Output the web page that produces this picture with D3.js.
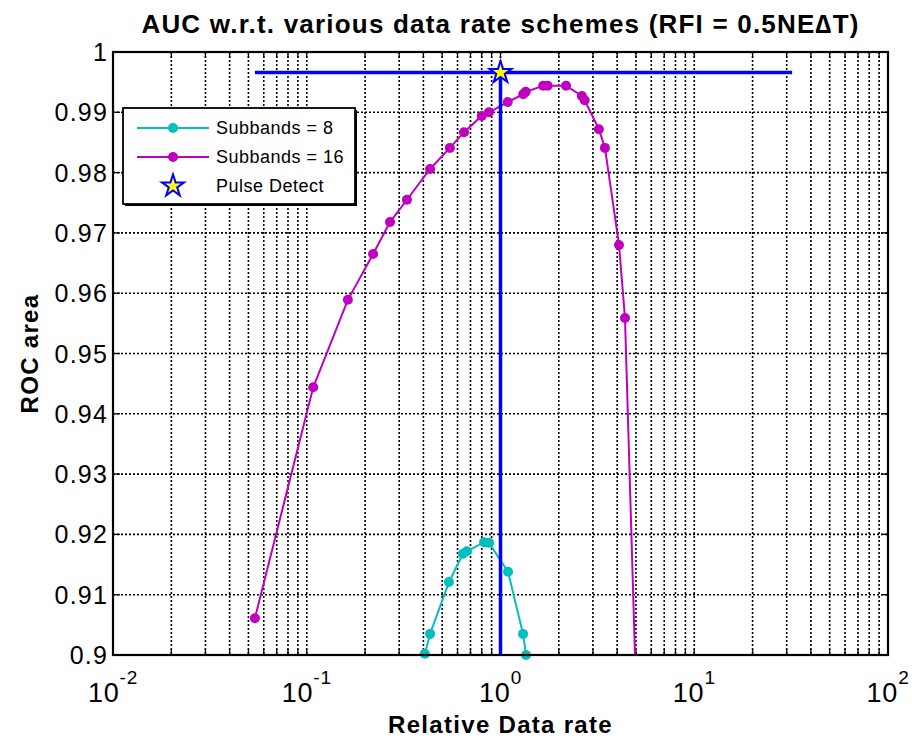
<!DOCTYPE html>
<html>
<head>
<meta charset="utf-8">
<script src="https://cdn.jsdelivr.net/npm/d3@7"></script>
<style>
  body { margin: 0; background: #fff; }
  text { font-family: Arial, "Liberation Sans", sans-serif; }
</style>
</head>
<body>
<svg id="chart" width="912" height="740"></svg>
<script>
// Subbands = 8
const rate8 = [0.407, 0.433, 0.542, 0.640, 0.671, 0.822, 0.873, 1.094, 1.307, 1.355];
const auc8  = [0.9002, 0.9035, 0.9121, 0.9168, 0.9172, 0.9187, 0.9186, 0.9138, 0.9035, 0.9000];

// Subbands = 16
const rate16 = [0.054, 0.108, 0.163, 0.220, 0.269, 0.329, 0.433, 0.548, 0.648, 0.800, 0.872,
                1.09, 1.31, 1.35, 1.66, 1.75, 2.18, 2.63, 2.72, 3.22, 3.46, 4.09, 4.39, 5.5];
const auc16  = [0.9061, 0.9444, 0.9589, 0.9665, 0.9718, 0.9755, 0.9806, 0.9841, 0.9867, 0.9894, 0.9900,
                0.9917, 0.9930, 0.9934, 0.9944, 0.9944, 0.9944, 0.9927, 0.9920, 0.9872, 0.9841, 0.9680, 0.9559, 0.8500];

// Pulse Detect
const pulseRate = 1;
const pulseAuc = 0.9966;
const pulseSpan = [0.054, 32];

const yTicks = [0.9, 0.91, 0.92, 0.93, 0.94, 0.95, 0.96, 0.97, 0.98, 0.99, 1];
const xDecades = [-2, -1, 0, 1, 2];
const legendLabels = ['Subbands = 8', 'Subbands = 16', 'Pulse Detect'];

const margin = {top: 52, right: 24, bottom: 85, left: 113};
const width = 912 - margin.left - margin.right;
const height = 740 - margin.top - margin.bottom;

const svg = d3.select('#chart');
const chart = svg.append('g').attr('transform', `translate(${margin.left},${margin.top})`);

const x = d3.scaleLog().domain([0.01, 100]).range([0, width]);
const y = d3.scaleLinear().domain([0.9, 1]).range([height, 0]);

svg.append('defs').append('clipPath').attr('id', 'clip')
  .append('rect').attr('width', width).attr('height', height);

// minor + major positions for log grid
const xGrid = [];
for (let k = -2; k < 2; k++) for (let m = 1; m < 10; m++) xGrid.push(m * Math.pow(10, k));
xGrid.push(100);

// Grid
chart.append('g').selectAll('line.vg')
  .data(xGrid)
  .join('line')
    .attr('x1', d => x(d)).attr('x2', d => x(d))
    .attr('y1', 0).attr('y2', height)
    .attr('stroke', '#000').attr('stroke-width', 1.6).attr('stroke-dasharray', '2,2');

chart.append('g').selectAll('line.hg')
  .data(yTicks)
  .join('line')
    .attr('x1', 0).attr('x2', width)
    .attr('y1', d => y(d)).attr('y2', d => y(d))
    .attr('stroke', '#000').attr('stroke-width', 1.6).attr('stroke-dasharray', '2,2');

// Ticks inside box
const tickG = chart.append('g').attr('stroke', '#000').attr('stroke-width', 1.3);
tickG.selectAll('line.xb').data(xGrid).join('line')
  .attr('x1', d => x(d)).attr('x2', d => x(d)).attr('y1', height).attr('y2', height - 6);
tickG.selectAll('line.xt').data(xGrid).join('line')
  .attr('x1', d => x(d)).attr('x2', d => x(d)).attr('y1', 0).attr('y2', 6);
tickG.selectAll('line.yl').data(yTicks).join('line')
  .attr('x1', 0).attr('x2', 7).attr('y1', d => y(d)).attr('y2', d => y(d));
tickG.selectAll('line.yr').data(yTicks).join('line')
  .attr('x1', width).attr('x2', width - 7).attr('y1', d => y(d)).attr('y2', d => y(d));

// Tick labels
chart.append('g').selectAll('text')
  .data(yTicks)
  .join('text')
    .attr('x', -5)
    .attr('y', d => y(d))
    .attr('dy', '0.36em')
    .attr('text-anchor', 'end')
    .attr('font-size', 25)
    .attr('letter-spacing', 1.2)
    .text(d => d3.format('~g')(d));

const xLab = chart.append('g').selectAll('text')
  .data(xDecades)
  .join('text')
    .attr('x', d => x(Math.pow(10, d)))
    .attr('y', height + 47)
    .attr('text-anchor', 'middle')
    .attr('font-size', 27)
    .attr('letter-spacing', 0.8);
xLab.append('tspan').text('10');
xLab.append('tspan').attr('dy', -18).attr('font-size', 19).text(d => d);

// Data lines
const line = d3.line().x(d => x(d[0])).y(d => y(d[1]));
const plot = chart.append('g').attr('clip-path', 'url(#clip)');

const series = [
  {name: legendLabels[0], color: '#00bfbf', pts: d3.zip(rate8, auc8)},
  {name: legendLabels[1], color: '#bf00bf', pts: d3.zip(rate16, auc16)}
];

series.forEach(s => {
  plot.append('path')
    .datum(s.pts)
    .attr('fill', 'none')
    .attr('stroke', s.color)
    .attr('stroke-width', 2)
    .attr('d', line);
  chart.append('g').selectAll('circle')
    .data(s.pts.filter(p => p[1] >= 0.9))
    .join('circle')
      .attr('cx', d => x(d[0]))
      .attr('cy', d => y(d[1]))
      .attr('r', 5)
      .attr('fill', s.color);
});

// Pulse detect lines
chart.append('line')
  .attr('x1', x(pulseSpan[0])).attr('x2', x(pulseSpan[1]))
  .attr('y1', y(pulseAuc)).attr('y2', y(pulseAuc))
  .attr('stroke', '#0000ff').attr('stroke-width', 3.5);
chart.append('line')
  .attr('x1', x(pulseRate)).attr('x2', x(pulseRate))
  .attr('y1', y(pulseAuc)).attr('y2', y(0.9))
  .attr('stroke', '#0000ff').attr('stroke-width', 3.5);

const star = d3.symbol().type(d3.symbolStar).size(150);
chart.append('path')
  .attr('d', star)
  .attr('transform', `translate(${x(pulseRate)},${y(pulseAuc)})`)
  .attr('fill', '#ffff00').attr('stroke', '#0000ff').attr('stroke-width', 2);

// Axes box
chart.append('rect')
  .attr('width', width).attr('height', height)
  .attr('fill', 'none').attr('stroke', '#000').attr('stroke-width', 2.2);

// Legend
const legend = chart.append('g').attr('transform', 'translate(10,56)');
legend.append('rect').attr('x', 2).attr('y', 2).attr('width', 232).attr('height', 96).attr('fill', '#000');
legend.append('rect').attr('width', 232).attr('height', 96)
  .attr('fill', '#fff').attr('stroke', '#000').attr('stroke-width', 1.8);

const rows = [
  {label: legendLabels[0], color: '#00bfbf', type: 'line'},
  {label: legendLabels[1], color: '#bf00bf', type: 'line'},
  {label: legendLabels[2], type: 'star'}
];
rows.forEach((r, i) => {
  const ry = 20 + i * 29;
  if (r.type === 'line') {
    legend.append('line').attr('x1', 14).attr('x2', 86).attr('y1', ry).attr('y2', ry)
      .attr('stroke', r.color).attr('stroke-width', 2);
    legend.append('circle').attr('cx', 50).attr('cy', ry).attr('r', 5).attr('fill', r.color);
  } else {
    legend.append('path').attr('d', star)
      .attr('transform', `translate(50,${ry})`)
      .attr('fill', '#ffff00').attr('stroke', '#0000ff').attr('stroke-width', 2);
  }
  legend.append('text').attr('x', 93).attr('y', ry).attr('dy', '0.36em')
    .attr('font-size', 18).attr('letter-spacing', 0.5).text(r.label);
});

// Title and axis labels
svg.append('text')
  .attr('x', margin.left + width / 2).attr('y', 33)
  .attr('text-anchor', 'middle').attr('font-size', 26).attr('font-weight', 'bold')
  .attr('letter-spacing', 1.2)
  .text('AUC w.r.t. various data rate schemes (RFI = 0.5NE\u2206T)');

svg.append('text')
  .attr('x', margin.left + width / 2).attr('y', 733)
  .attr('text-anchor', 'middle').attr('font-size', 24).attr('font-weight', 'bold')
  .attr('letter-spacing', 1.3)
  .text('Relative Data rate');

svg.append('text')
  .attr('transform', `translate(38,${margin.top + height / 2}) rotate(-90)`)
  .attr('text-anchor', 'middle').attr('font-size', 24).attr('font-weight', 'bold')
  .attr('letter-spacing', 1.3)
  .text('ROC area');
</script>
</body>
</html>
